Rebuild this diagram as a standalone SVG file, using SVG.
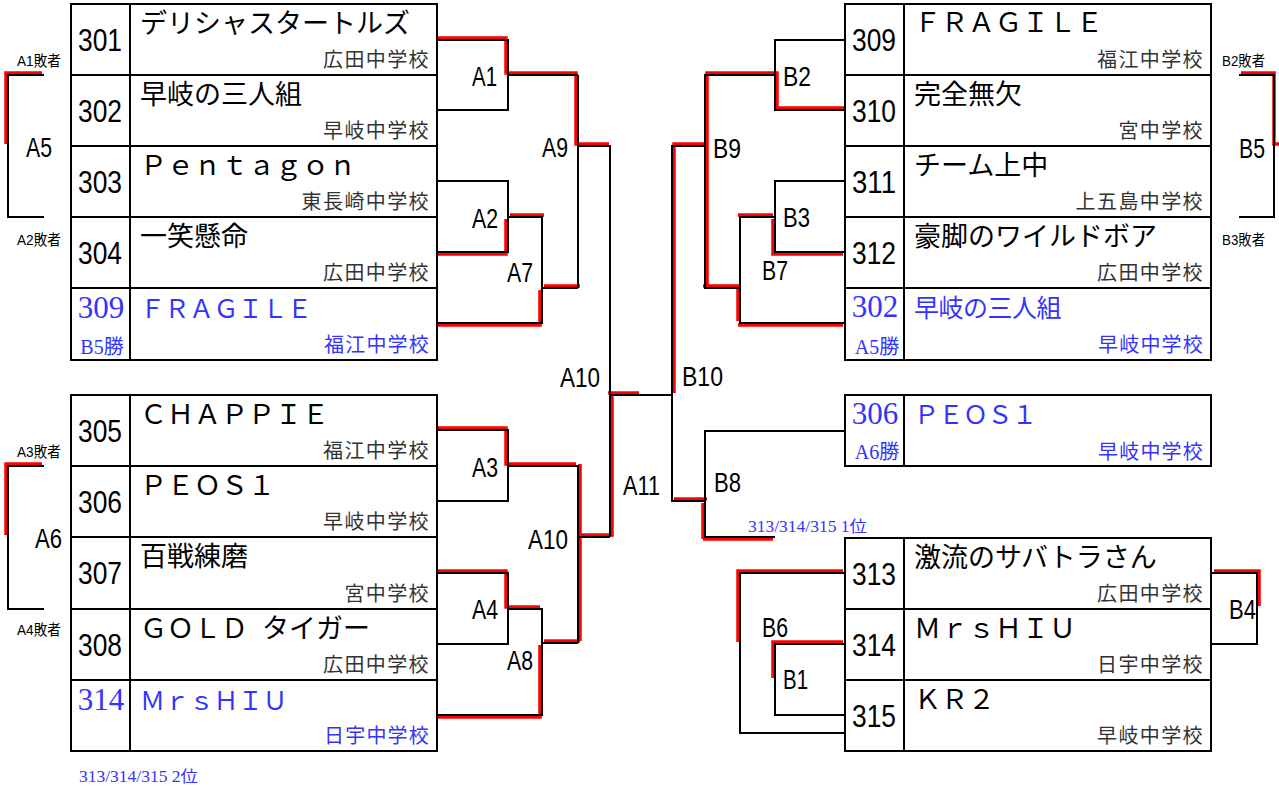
<svg xmlns="http://www.w3.org/2000/svg" width="1279" height="787" viewBox="0 0 1279 787">
<style>
.box{fill:#fff;stroke:#000;stroke-width:2}
.ln{fill:none;stroke:#000;stroke-width:2}
.rd{fill:none;stroke:#f00;stroke-width:3.5}
.num{font-family:"Liberation Sans","Noto Sans CJK JP",sans-serif;font-size:32px;text-anchor:middle;fill:#000}
.nm{font-family:"Noto Sans CJK JP",sans-serif;font-size:27px;fill:#000}
.sch{font-family:"Noto Sans CJK JP",sans-serif;font-size:20px;text-anchor:end;fill:#333;letter-spacing:1.4px}
.bn{font-family:"Liberation Serif","Noto Sans CJK JP",serif;font-size:31px;text-anchor:middle;fill:#3333ff}
.bw{font-family:"Liberation Serif","Noto Sans CJK JP",serif;font-size:20px;text-anchor:middle;fill:#3333ff}
.bnm{font-family:"Liberation Serif","Noto Sans CJK JP",serif;font-size:25px;fill:#3333ff;letter-spacing:-0.5px}
.bsch{font-family:"Noto Sans CJK JP",sans-serif;font-size:20px;text-anchor:end;fill:#3333ff;letter-spacing:1.2px}
.lab{font-family:"Liberation Sans","Noto Sans CJK JP",sans-serif;font-size:28px;fill:#000}
.sm{font-family:"Liberation Sans","Noto Sans CJK JP",sans-serif;font-size:15px;fill:#000}
.bsm{font-family:"Liberation Serif","Noto Sans CJK JP",serif;font-size:16px;fill:#3333ff}
</style>
<rect width="1279" height="787" fill="#fff"/>

<!-- connectors -->
<g id="connectors">
 <g id="red-lines">
  <g transform="translate(-2,-2)">
   <polyline class="rd" points="437,40 508,40 508,75 578,75 578,146 611,146"/>
   <polyline class="rd" points="437,430 508,430 508,466 578,466"/>
   <polyline class="rd" points="437,573 508,573 508,609 542,609"/>
   <polyline class="rd" points="44,75 8,75 8,146"/>
   <polyline class="rd" points="44,466 8,466 8,537"/>
   <polyline class="rd" points="610,395 641,395"/>
   <polyline class="rd" points="845,573 740,573 740,644"/>
   <polyline class="rd" points="845,644 775,644 775,680"/>
   <polyline class="rd" points="740,217 775,217"/>
   <polyline class="rd" points="705,288 740,288 740,323"/>
  </g>
  <g transform="translate(-2,2)">
   <polyline class="rd" points="437,252 508,252 508,217"/>
   <polyline class="rd" points="437,323 542,323 542,288"/>
   <polyline class="rd" points="437,715 542,715 542,643"/>
   <polyline class="rd" points="740,323 845,323"/>
   <polyline class="rd" points="775,217 775,252 845,252"/>
   <polyline class="rd" points="705,537 775,537"/>
   <polyline class="rd" points="705,501 705,537"/>
  </g>
  <g transform="translate(2,-2)">
   <polyline class="rd" points="508,217 542,217"/>
   <polyline class="rd" points="542,288 578,288"/>
   <polyline class="rd" points="542,643 578,643"/>
   <polyline class="rd" points="578,466 578,643"/>
   <polyline class="rd" points="578,537 610,537 610,395"/>
   <polyline class="rd" points="845,110 775,110 775,75 705,75 705,288"/>
   <polyline class="rd" points="705,146 672,146 672,395"/>
   <polyline class="rd" points="672,501 705,501"/>
   <polyline class="rd" points="1212,573 1257,573 1257,608"/>
   <polyline class="rd" points="1239,75 1272,75 1272,146 1279,146"/>
  </g>
 </g>
 <g id="black-lines">
  <polyline class="ln" points="437,40 508,40 508,110 437,110"/>
  <polyline class="ln" points="508,75 578,75"/>
  <polyline class="ln" points="437,181 508,181 508,252 437,252"/>
  <polyline class="ln" points="508,217 542,217 542,323 437,323"/>
  <polyline class="ln" points="542,288 578,288"/>
  <polyline class="ln" points="578,75 578,288"/>
  <polyline class="ln" points="578,146 610,146 610,537"/>
  <polyline class="ln" points="610,395 672,395"/>
  <polyline class="ln" points="437,430 508,430 508,501 437,501"/>
  <polyline class="ln" points="508,466 578,466 578,643"/>
  <polyline class="ln" points="437,573 508,573 508,644 437,644"/>
  <polyline class="ln" points="508,609 542,609 542,715 437,715"/>
  <polyline class="ln" points="542,643 578,643"/>
  <polyline class="ln" points="578,537 610,537"/>
  <polyline class="ln" points="44,75 8,75 8,217 44,217"/>
  <polyline class="ln" points="44,466 8,466 8,609 44,609"/>
  <polyline class="ln" points="845,40 775,40 775,110 845,110"/>
  <polyline class="ln" points="775,75 705,75 705,288 740,288"/>
  <polyline class="ln" points="845,181 775,181 775,252 845,252"/>
  <polyline class="ln" points="775,217 740,217 740,323 845,323"/>
  <polyline class="ln" points="705,146 672,146 672,501 705,501"/>
  <polyline class="ln" points="845,431 705,431 705,537 775,537"/>
  <polyline class="ln" points="845,573 740,573 740,733 845,733"/>
  <polyline class="ln" points="845,644 775,644 775,715 845,715"/>
  <polyline class="ln" points="1211,573 1257,573 1257,644 1211,644"/>
  <polyline class="ln" points="1239,75 1274,75 1274,217 1239,217"/>
 </g>
</g>

<!-- left top block -->
<g id="t301">
 <rect class="box" x="71" y="4" width="59" height="71"/><rect class="box" x="130" y="4" width="307" height="71"/>
 <text class="num" x="100" y="51" textLength="44" lengthAdjust="spacingAndGlyphs">301</text>
 <text class="nm" x="140" y="33">デリシャスタートルズ</text>
 <text class="sch" x="430" y="67">広田中学校</text>
</g>
<g id="t302">
 <rect class="box" x="71" y="75" width="59" height="71"/><rect class="box" x="130" y="75" width="307" height="71"/>
 <text class="num" x="100" y="122" textLength="44" lengthAdjust="spacingAndGlyphs">302</text>
 <text class="nm" x="140" y="104">早岐の三人組</text>
 <text class="sch" x="430" y="138">早岐中学校</text>
</g>
<g id="t303">
 <rect class="box" x="71" y="146" width="59" height="71"/><rect class="box" x="130" y="146" width="307" height="71"/>
 <text class="num" x="100" y="193" textLength="44" lengthAdjust="spacingAndGlyphs">303</text>
 <text class="nm" x="140" y="175">Ｐｅｎｔａｇｏｎ</text>
 <text class="sch" x="430" y="209">東長崎中学校</text>
</g>
<g id="t304">
 <rect class="box" x="71" y="217" width="59" height="71"/><rect class="box" x="130" y="217" width="307" height="71"/>
 <text class="num" x="100" y="264" textLength="44" lengthAdjust="spacingAndGlyphs">304</text>
 <text class="nm" x="140" y="246">一笑懸命</text>
 <text class="sch" x="430" y="280">広田中学校</text>
</g>
<g id="t309-left">
 <rect class="box" x="71" y="288" width="59" height="72"/><rect class="box" x="130" y="288" width="307" height="72"/>
 <text class="bn" x="101" y="318">309</text>
 <text class="bw" x="102" y="354">B5勝</text>
 <text class="bnm" x="140" y="318">ＦＲＡＧＩＬＥ</text>
 <text class="bsch" x="430" y="352">福江中学校</text>
</g>

<!-- left bottom block -->
<g id="t305">
 <rect class="box" x="71" y="395" width="59" height="71"/><rect class="box" x="130" y="395" width="307" height="71"/>
 <text class="num" x="100" y="442" textLength="44" lengthAdjust="spacingAndGlyphs">305</text>
 <text class="nm" x="140" y="424">ＣＨＡＰＰＩＥ</text>
 <text class="sch" x="430" y="458">福江中学校</text>
</g>
<g id="t306">
 <rect class="box" x="71" y="466" width="59" height="71"/><rect class="box" x="130" y="466" width="307" height="71"/>
 <text class="num" x="100" y="513" textLength="44" lengthAdjust="spacingAndGlyphs">306</text>
 <text class="nm" x="140" y="495">ＰＥＯＳ１</text>
 <text class="sch" x="430" y="529">早岐中学校</text>
</g>
<g id="t307">
 <rect class="box" x="71" y="537" width="59" height="72"/><rect class="box" x="130" y="537" width="307" height="72"/>
 <text class="num" x="100" y="584" textLength="44" lengthAdjust="spacingAndGlyphs">307</text>
 <text class="nm" x="140" y="566">百戦練磨</text>
 <text class="sch" x="430" y="601">宮中学校</text>
</g>
<g id="t308">
 <rect class="box" x="71" y="609" width="59" height="71"/><rect class="box" x="130" y="609" width="307" height="71"/>
 <text class="num" x="100" y="656" textLength="44" lengthAdjust="spacingAndGlyphs">308</text>
 <text class="nm" x="140" y="638">ＧＯＬＤ <tspan dx="8">タイガー</tspan></text>
 <text class="sch" x="430" y="672">広田中学校</text>
</g>
<g id="t314-left">
 <rect class="box" x="71" y="680" width="59" height="71"/><rect class="box" x="130" y="680" width="307" height="71"/>
 <text class="bn" x="101" y="710">314</text>
 <text class="bnm" x="140" y="710">ＭｒｓＨＩＵ</text>
 <text class="bsch" x="430" y="743">日宇中学校</text>
</g>

<!-- right top block -->
<g id="t309">
 <rect class="box" x="845" y="4" width="59" height="71"/><rect class="box" x="904" y="4" width="307" height="71"/>
 <text class="num" x="874" y="51" textLength="44" lengthAdjust="spacingAndGlyphs">309</text>
 <text class="nm" x="914" y="32">ＦＲＡＧＩＬＥ</text>
 <text class="sch" x="1204" y="67">福江中学校</text>
</g>
<g id="t310">
 <rect class="box" x="845" y="75" width="59" height="71"/><rect class="box" x="904" y="75" width="307" height="71"/>
 <text class="num" x="874" y="122" textLength="44" lengthAdjust="spacingAndGlyphs">310</text>
 <text class="nm" x="914" y="104">完全無欠</text>
 <text class="sch" x="1204" y="138">宮中学校</text>
</g>
<g id="t311">
 <rect class="box" x="845" y="146" width="59" height="71"/><rect class="box" x="904" y="146" width="307" height="71"/>
 <text class="num" x="874" y="193" textLength="44" lengthAdjust="spacingAndGlyphs">311</text>
 <text class="nm" x="914" y="175">チーム上中</text>
 <text class="sch" x="1204" y="209">上五島中学校</text>
</g>
<g id="t312">
 <rect class="box" x="845" y="217" width="59" height="71"/><rect class="box" x="904" y="217" width="307" height="71"/>
 <text class="num" x="874" y="264" textLength="44" lengthAdjust="spacingAndGlyphs">312</text>
 <text class="nm" x="914" y="246">豪脚のワイルドボア</text>
 <text class="sch" x="1204" y="280">広田中学校</text>
</g>
<g id="t302-right">
 <rect class="box" x="845" y="288" width="59" height="72"/><rect class="box" x="904" y="288" width="307" height="72"/>
 <text class="bn" x="875" y="317">302</text>
 <text class="bw" x="877" y="354">A5勝</text>
 <text class="bnm" x="914" y="317">早岐の三人組</text>
 <text class="bsch" x="1204" y="352">早岐中学校</text>
</g>

<!-- right middle -->
<g id="t306-right">
 <rect class="box" x="845" y="395" width="59" height="71"/><rect class="box" x="904" y="395" width="307" height="71"/>
 <text class="bn" x="875" y="424">306</text>
 <text class="bw" x="877" y="459">A6勝</text>
 <text class="bnm" x="914" y="424">ＰＥＯＳ１</text>
 <text class="bsch" x="1204" y="459">早岐中学校</text>
</g>

<!-- right bottom block -->
<g id="t313">
 <rect class="box" x="845" y="538" width="59" height="71"/><rect class="box" x="904" y="538" width="307" height="71"/>
 <text class="num" x="874" y="585" textLength="44" lengthAdjust="spacingAndGlyphs">313</text>
 <text class="nm" x="914" y="567">激流のサバトラさん</text>
 <text class="sch" x="1204" y="601">広田中学校</text>
</g>
<g id="t314">
 <rect class="box" x="845" y="609" width="59" height="71"/><rect class="box" x="904" y="609" width="307" height="71"/>
 <text class="num" x="874" y="656" textLength="44" lengthAdjust="spacingAndGlyphs">314</text>
 <text class="nm" x="914" y="638">ＭｒｓＨＩＵ</text>
 <text class="sch" x="1204" y="672">日宇中学校</text>
</g>
<g id="t315">
 <rect class="box" x="845" y="680" width="59" height="71"/><rect class="box" x="904" y="680" width="307" height="71"/>
 <text class="num" x="874" y="727" textLength="44" lengthAdjust="spacingAndGlyphs">315</text>
 <text class="nm" x="914" y="709">ＫＲ２</text>
 <text class="sch" x="1204" y="743">早岐中学校</text>
</g>

<!-- match labels -->
<g id="labels">
 <text class="lab" x="472" y="86" textLength="25" lengthAdjust="spacingAndGlyphs">A1</text>
 <text class="lab" x="472" y="228" textLength="26" lengthAdjust="spacingAndGlyphs">A2</text>
 <text class="lab" x="507" y="282" textLength="26" lengthAdjust="spacingAndGlyphs">A7</text>
 <text class="lab" x="542" y="157" textLength="26" lengthAdjust="spacingAndGlyphs">A9</text>
 <text class="lab" x="560" y="387" textLength="40" lengthAdjust="spacingAndGlyphs">A10</text>
 <text class="lab" x="528" y="549" textLength="40" lengthAdjust="spacingAndGlyphs">A10</text>
 <text class="lab" x="623" y="495" textLength="37" lengthAdjust="spacingAndGlyphs">A11</text>
 <text class="lab" x="472" y="477" textLength="26" lengthAdjust="spacingAndGlyphs">A3</text>
 <text class="lab" x="472" y="619" textLength="26" lengthAdjust="spacingAndGlyphs">A4</text>
 <text class="lab" x="507" y="670" textLength="26" lengthAdjust="spacingAndGlyphs">A8</text>
 <text class="lab" x="26" y="157" textLength="26" lengthAdjust="spacingAndGlyphs">A5</text>
 <text class="lab" x="35" y="548" textLength="27" lengthAdjust="spacingAndGlyphs">A6</text>
 <text class="lab" x="783" y="86" textLength="28" lengthAdjust="spacingAndGlyphs">B2</text>
 <text class="lab" x="783" y="227" textLength="27" lengthAdjust="spacingAndGlyphs">B3</text>
 <text class="lab" x="762" y="280" textLength="26" lengthAdjust="spacingAndGlyphs">B7</text>
 <text class="lab" x="713" y="158" textLength="28" lengthAdjust="spacingAndGlyphs">B9</text>
 <text class="lab" x="682" y="386" textLength="41" lengthAdjust="spacingAndGlyphs">B10</text>
 <text class="lab" x="714" y="492" textLength="27" lengthAdjust="spacingAndGlyphs">B8</text>
 <text class="lab" x="762" y="637" textLength="26" lengthAdjust="spacingAndGlyphs">B6</text>
 <text class="lab" x="783" y="689" textLength="25" lengthAdjust="spacingAndGlyphs">B1</text>
 <text class="lab" x="1229" y="619" textLength="27" lengthAdjust="spacingAndGlyphs">B4</text>
 <text class="lab" x="1239" y="158" textLength="26" lengthAdjust="spacingAndGlyphs">B5</text>
 <text class="sm" x="17" y="66" textLength="44" lengthAdjust="spacingAndGlyphs">A1敗者</text>
 <text class="sm" x="17" y="245" textLength="44" lengthAdjust="spacingAndGlyphs">A2敗者</text>
 <text class="sm" x="17" y="457" textLength="44" lengthAdjust="spacingAndGlyphs">A3敗者</text>
 <text class="sm" x="17" y="635" textLength="44" lengthAdjust="spacingAndGlyphs">A4敗者</text>
 <text class="sm" x="1222" y="66" textLength="43" lengthAdjust="spacingAndGlyphs">B2敗者</text>
 <text class="sm" x="1222" y="245" textLength="43" lengthAdjust="spacingAndGlyphs">B3敗者</text>
 <text class="bsm" x="748" y="532" textLength="119" lengthAdjust="spacingAndGlyphs">313/314/315 1位</text>
 <text class="bsm" x="79" y="782" textLength="119" lengthAdjust="spacingAndGlyphs">313/314/315 2位</text>
</g>
</svg>
